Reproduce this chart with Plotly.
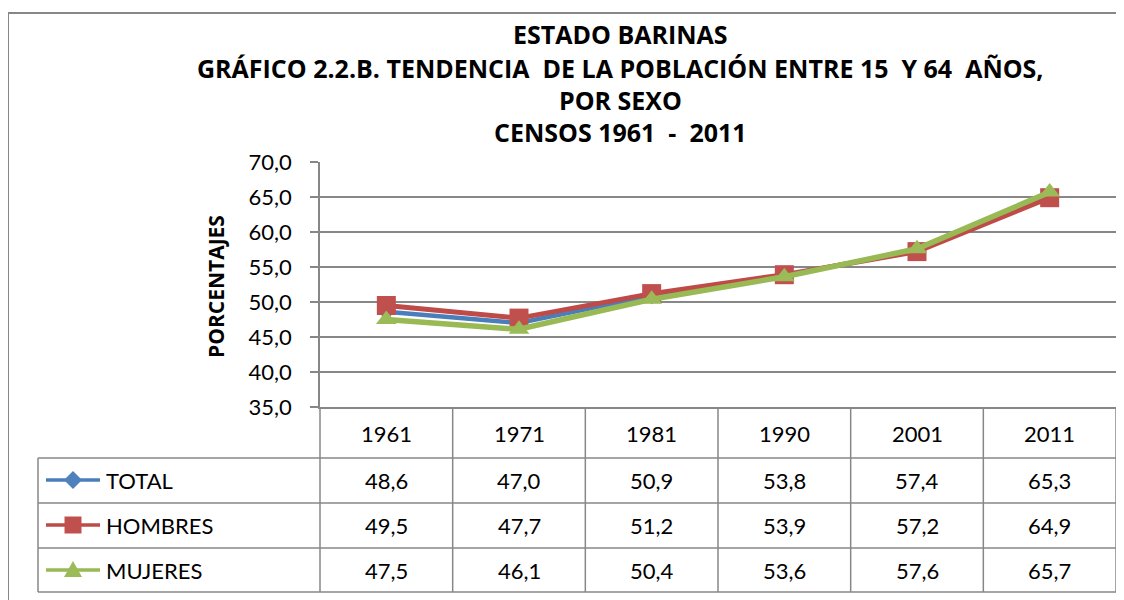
import plotly.graph_objects as go

# ---------------- data ----------------
years = ["1961", "1971", "1981", "1990", "2001", "2011"]
total = [48.6, 47.0, 50.9, 53.8, 57.4, 65.3]
hombres = [49.5, 47.7, 51.2, 53.9, 57.2, 64.9]
mujeres = [47.5, 46.1, 50.4, 53.6, 57.6, 65.7]
series_names = ["TOTAL", "HOMBRES", "MUJERES"]
y_ticks = [35, 40, 45, 50, 55, 60, 65, 70]
title_lines = [
    "ESTADO BARINAS",
    "GRÁFICO 2.2.B. TENDENCIA  DE LA POBLACIÓN ENTRE 15  Y 64  AÑOS,",
    "POR SEXO",
    "CENSOS 1961  -  2011",
]
y_title = "PORCENTAJES"

# ---------------- styling / geometry ----------------
OFF = 8                                    # page body margin of the browser
W, H = 1124 - OFF, 600 - OFF
L, R, T, B = 320, 1116, 162, 407           # plot area in screen pixels
row_lines = [458, 503, 548, 592]           # table horizontal lines (screen pixels)
header_center = 433
row_centers = [480, 525, 570]
table_left = 38
colors_line = ["#4A7EBB", "#BE4B48", "#98B954"]
colors_marker = ["#4F81BD", "#C0504D", "#9BBB59"]
symbols = ["diamond", "square", "triangle-up"]
msizes = [13, 19, 18]
lwidths = [4.5, 5, 5.5]
grid = "#878787"
FONT = "Lato"
TFONT = "Open Sans"


def px(x):
    return (x - L) / (R - L)


def py(y):
    return (B - y) / (B - T)


series = [total, hombres, mujeres]

fig = go.Figure()
for name, vals, lc, mc, sym, ms, lw in zip(series_names, series, colors_line,
                                          colors_marker, symbols, msizes, lwidths):
    fig.add_trace(go.Scatter(
        x=years, y=vals, name=name, mode="lines+markers",
        line=dict(color=lc, width=lw),
        marker=dict(symbol=sym, size=ms, color=mc, line=dict(width=0)),
        showlegend=False, cliponaxis=False,
    ))

shapes = []
# outer chart border (only top and left edges are visible)
shapes.append(dict(type="line", xref="paper", yref="paper",
                   x0=px(8), x1=px(1200), y0=py(13), y1=py(13),
                   line=dict(color="#878787", width=2)))
shapes.append(dict(type="line", xref="paper", yref="paper",
                   x0=px(8), x1=px(8), y0=py(13), y1=py(640),
                   line=dict(color="#878787", width=2)))
# table horizontal lines
for yl in row_lines:
    shapes.append(dict(type="line", xref="paper", yref="paper",
                       x0=px(table_left), x1=1, y0=py(yl), y1=py(yl),
                       line=dict(color=grid, width=1.5)))
# left edge of legend column
shapes.append(dict(type="line", xref="paper", yref="paper",
                   x0=px(table_left), x1=px(table_left), y0=py(row_lines[0]), y1=py(row_lines[-1]),
                   line=dict(color=grid, width=1.5)))
# y axis extension through table
shapes.append(dict(type="line", xref="paper", yref="paper",
                   x0=0, x1=0, y0=0, y1=py(row_lines[-1]),
                   line=dict(color=grid, width=1.5)))
# column separators
for k in range(len(years)):
    xe = k + 0.5
    shapes.append(dict(type="line", xref="x", yref="paper",
                       x0=xe, x1=xe, y0=0, y1=py(row_lines[-1]),
                       line=dict(color=grid, width=1.5)))

# legend keys
kx0, kx1, kxc = 46, 100, 73
for i, yc in enumerate(row_centers):
    shapes.append(dict(type="line", xref="paper", yref="paper",
                       x0=px(kx0), x1=px(kx1), y0=py(yc), y1=py(yc),
                       line=dict(color=colors_line[i], width=3.5)))
    if symbols[i] == "diamond":
        h = 9
        path = (f"M {px(kxc-h)} {py(yc)} L {px(kxc)} {py(yc-h)} "
                f"L {px(kxc+h)} {py(yc)} L {px(kxc)} {py(yc+h)} Z")
    elif symbols[i] == "square":
        h = 8.5
        path = (f"M {px(kxc-h)} {py(yc-h)} L {px(kxc+h)} {py(yc-h)} "
                f"L {px(kxc+h)} {py(yc+h)} L {px(kxc-h)} {py(yc+h)} Z")
    else:
        h = 9
        path = (f"M {px(kxc-h)} {py(yc+7)} L {px(kxc+h)} {py(yc+7)} "
                f"L {px(kxc)} {py(yc-9)} Z")
    shapes.append(dict(type="path", xref="paper", yref="paper", path=path,
                       fillcolor=colors_marker[i], line=dict(width=0)))

annotations = []
# title lines
title_y = [34, 68, 100, 132]
for txt, yy in zip(title_lines, title_y):
    annotations.append(dict(text=f"<b>{txt}</b>", xref="paper", yref="paper",
                            x=px(620), y=py(yy), xanchor="center", yanchor="middle",
                            showarrow=False, font=dict(family=TFONT, size=25, color="black")))
# y-axis title
annotations.append(dict(text=f"<b>{y_title}</b>", xref="paper", yref="paper",
                        x=px(216), y=py(287), textangle=-90, xanchor="center", yanchor="middle",
                        showarrow=False, font=dict(family=TFONT, size=21, color="black")))
# header row (years)
for k, yr in enumerate(years):
    annotations.append(dict(text=yr, xref="x", yref="paper", x=k, y=py(header_center),
                            xanchor="center", yanchor="middle", showarrow=False,
                            font=dict(family=FONT, size=22, color="black")))
# data rows
for name, vals, yc in zip(series_names, series, row_centers):
    annotations.append(dict(text=name, xref="paper", yref="paper", x=px(104), y=py(yc),
                            xanchor="left", yanchor="middle", showarrow=False,
                            font=dict(family=FONT, size=22, color="black")))
    for k, v in enumerate(vals):
        annotations.append(dict(text=f"{v:.1f}".replace(".", ","), xref="x", yref="paper",
                                x=k, y=py(yc), xanchor="center", yanchor="middle",
                                showarrow=False, font=dict(family=FONT, size=22, color="black")))

fig.update_layout(
    width=W, height=H,
    margin=dict(l=L - OFF, r=W - (R - OFF), t=T - OFF, b=H - (B - OFF), pad=0),
    paper_bgcolor="white", plot_bgcolor="white",
    separators=",.",
    shapes=shapes, annotations=annotations,
    xaxis=dict(type="category", range=[-0.5, len(years) - 0.5], showgrid=False,
               showticklabels=False, ticks="", showline=True, linecolor=grid,
               linewidth=1.5, zeroline=False, fixedrange=True),
    yaxis=dict(range=[35, 70], tickvals=y_ticks, tickformat=".1f", showgrid=True,
               gridcolor=grid, gridwidth=1.5, showline=True, linecolor=grid,
               linewidth=1.5, ticks="outside", ticklen=8, tickcolor=grid, tickwidth=1.5,
               ticklabelstandoff=14, zeroline=False,
               tickfont=dict(family=FONT, size=22, color="black")),
    font=dict(family=FONT),
)

fig.write_html("out.html", config={"displayModeBar": False})
